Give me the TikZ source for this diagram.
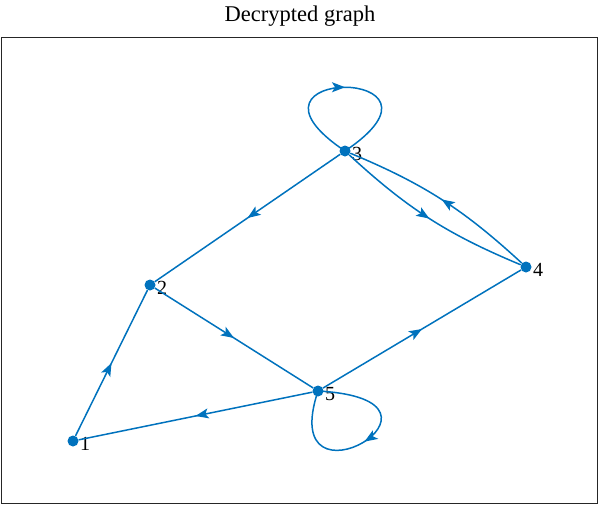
\documentclass[tikz,border=0pt]{standalone}
\usepackage{fontspec}
\setmainfont{Liberation Serif}
\usetikzlibrary{arrows.meta,decorations.markings}
\definecolor{mblue}{RGB}{0,114,189}
\tikzset{
  vtx/.style={circle,fill=mblue,draw=none,inner sep=0pt,minimum size=11pt},
  lbl/.style={anchor=west,inner sep=0pt,font=\fontsize{20}{22}\selectfont},
  edge/.style={draw=mblue,line width=1.5pt,
    postaction={decorate,decoration={markings,
      mark=at position #1 with {\arrow{Stealth[length=13pt,width=10pt,inset=3pt]}}}}},
  edge/.default=0.5,
  frame/.style={draw=black!85,line width=1.3pt}
}
\begin{document}
\begin{tikzpicture}[x=1pt,y=-1pt]
\useasboundingbox (0,0) rectangle (600,506);
\draw[frame] (1.5,37.5) rectangle (597.5,503.5);
\node (title) at (300,16) {\fontsize{22.5}{26}\selectfont Decrypted graph};
\node[vtx] (n1) at (73,441) {};
\node[vtx] (n2) at (150,285) {};
\node[vtx] (n3) at (345,151) {};
\node[vtx] (n4) at (526,267) {};
\node[vtx] (n5) at (318,391) {};
\node[lbl] (l1) at (80,444) {1};
\node[lbl] (l2) at (157,288) {2};
\node[lbl] (l3) at (352,154) {3};
\node[lbl] (l4) at (533,270) {4};
\node[lbl] (l5) at (325,394) {5};
\draw[edge] (n1) -- (n2);
\draw[edge] (n2) -- (n5);
\draw[edge] (n3) -- (n2);
\draw[edge] (n5) -- (n1);
\draw[edge] (n5) -- (n4);
\draw[edge] (n3) to[bend right=10] (n4);
\draw[edge] (n4) to[bend right=10] (n3);
\draw[edge] (n3.center) .. controls (218,66) and (472,66) .. (n3.center);
\draw[edge=0.5] (n5.center) .. controls (480,400) and (275,520) .. (n5.center);
\end{tikzpicture}
\end{document}
